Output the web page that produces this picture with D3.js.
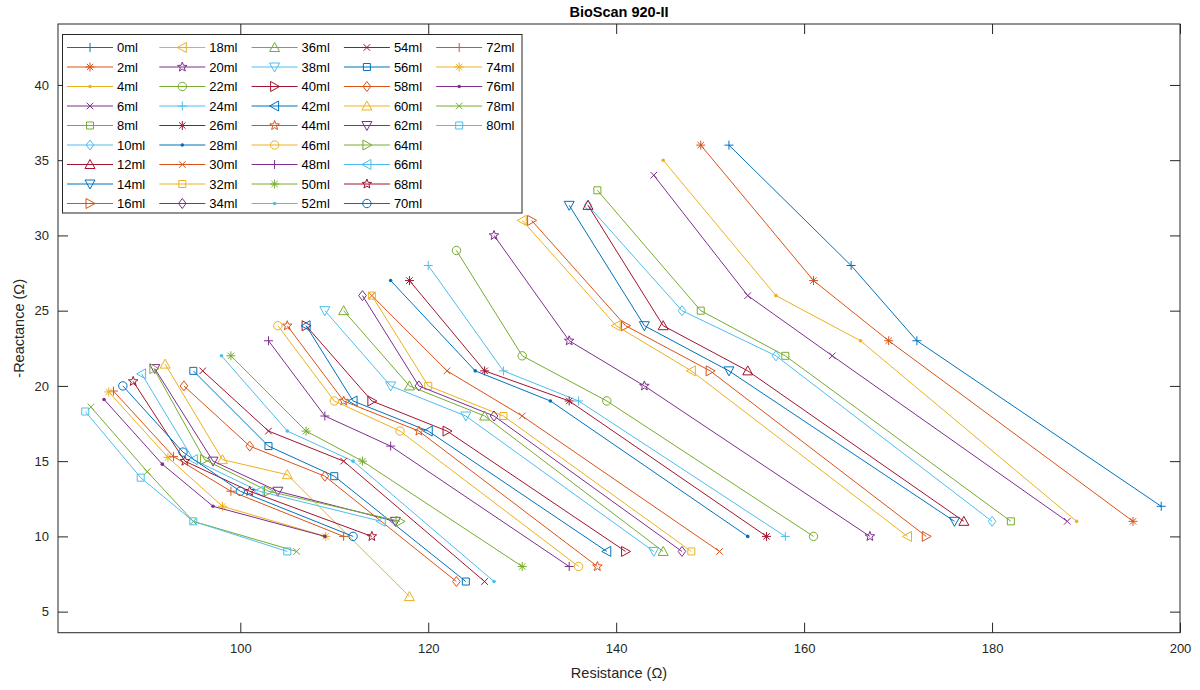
<!DOCTYPE html>
<html>
<head>
<meta charset="utf-8">
<script src="https://d3js.org/d3.v7.min.js"></script>
<style>
  body { margin: 0; background: #fff; }
  text { font-family: "Liberation Sans", Arial, Helvetica, sans-serif; }
  .tick line { stroke: #262626; }
  .tick text { fill: #262626; font-size: 13px; }
  .domain { display: none; }
</style>
</head>
<body>
<svg id="chart" width="1200" height="690"></svg>
<script>
// volumes added, one series each
var labels = ["0ml","2ml","4ml","6ml","8ml","10ml","12ml","14ml","16ml","18ml","20ml",
  "22ml","24ml","26ml","28ml","30ml","32ml","34ml","36ml","38ml","40ml",
  "42ml","44ml","46ml","48ml","50ml","52ml","54ml","56ml","58ml","60ml",
  "62ml","64ml","66ml","68ml","70ml","72ml","74ml","76ml","78ml","80ml"];

// resistance (ohm), 4 readings per series
var resistance = [
  [152,165,172,198], [149,161,169,195], [145,157,166,189], [144,154,163,188],
  [138,149,158,182], [137,147,157,180], [137,145,154,177], [135,143,152,176],
  [131,141,150,173], [130,140,148,171], [127,135,143,167], [123,130,139,161],
  [120,128,136,158], [118,126,135,156], [116,125,133,154], [114,122,130,151],
  [114,120,128,148], [113,119,127,147], [111,118,126,145], [109,116,124,144],
  [107,114,122,141], [107,112,120,139], [105,111,119,138], [104,110,117,136],
  [103,109,116,135], [99,107,113,130], [98,105,112,127], [96,103,111,126],
  [95,103,110,124], [94,101,109,123], [92,98.1,105,118], [90.9,97.1,104,116.5],
  [90.8,96.2,103,117], [89.5,95,102,115], [88.6,94.1,101,114], [87.5,93.9,100,112],
  [86.5,92.9,99,111], [86,92.3,98.1,109.1], [85.5,91.7,97.1,109], [84.1,90.1,95,106],
  [83.5,89.4,95,105]
];

// -reactance (ohm), same order
var reactance = [
  [36,28,23,12], [36,27,23,11], [35,26,23,11], [34,26,22,11],
  [33,25,22,11], [32,25,22,11], [32,24,21,11], [32,24,21,11],
  [31,24,21,10], [31,24,21,10], [30,23,20,10], [29,22,19,10],
  [28,21,19,10], [27,21,19,10], [27,21,19,10], [26,21,18,9],
  [26,20,18,9], [26,20,18,9], [25,20,18,9], [25,20,18,9],
  [24,19,17,9], [24,19,17,9], [24,19,17,8], [24,19,17,8],
  [23,18,16,8], [22,17,15,8], [22,17,15,7], [21,17,15,7],
  [21,16,14,7], [20,16,14,7], [21.45,15.1,14.1,6], [21.15,15,13,11],
  [21.15,15.1,13,11], [20.8,15.1,13,11], [20.3,15,13,10], [20,15.6,13,10],
  [19.66,15.3,13,10], [19.6,15.25,12,10], [19.1,14.8,12,10], [18.6,14.3,11,9],
  [18.3,13.9,11,9]
];

var xTicks = [100, 120, 140, 160, 180, 200];
var yTicks = [5, 10, 15, 20, 25, 30, 35, 40];
var colors = ["#0072BD","#D95319","#EDB120","#7E2F8E","#77AC30","#4DBEEE","#A2142F"];
var markers = ["+","*",".","x","s","d","^","v",">","<","p","o"];

var plotL = 58, plotT = 24, plotR = 1180, plotB = 632.7;

var svg = d3.select("#chart");

var x = d3.scaleLinear().domain([80.6, 200]).range([plotL, plotR]);
var y = d3.scaleLinear().domain([3.6, 44.05]).range([plotB, plotT]);

function circlePath(r) {
  return "M" + r + ",0A" + r + "," + r + " 0 1,1 " + (-r) + ",0A" + r + "," + r + " 0 1,1 " + r + ",0Z";
}

function markerPath(t) {
  switch (t) {
    case "+": return "M-4.5,0H4.5M0,-4.5V4.5";
    case "x": return "M-3.3,-3.3L3.3,3.3M-3.3,3.3L3.3,-3.3";
    case "*": return "M-4.5,0H4.5M0,-4.5V4.5M-3.2,-3.2L3.2,3.2M-3.2,3.2L3.2,-3.2";
    case ".": return circlePath(1.8);
    case "o": return circlePath(4.2);
    case "s": return "M-3.5,-3.5H3.5V3.5H-3.5Z";
    case "d": return "M0,-5L3.8,0L0,5L-3.8,0Z";
    case "^": return "M0,-5L5,4L-5,4Z";
    case "v": return "M0,5L5,-4L-5,-4Z";
    case ">": return "M5,0L-4,-5L-4,5Z";
    case "<": return "M-5,0L4,-5L4,5Z";
    case "p":
      var pts = [];
      for (var k = 0; k < 10; k++) {
        var rr = k % 2 === 0 ? 5 : 2.1;
        var ang = -Math.PI / 2 + k * Math.PI / 5;
        pts.push((rr * Math.cos(ang)).toFixed(2) + "," + (rr * Math.sin(ang)).toFixed(2));
      }
      return "M" + pts.join("L") + "Z";
  }
}

function drawMarker(g, t, color) {
  g.append("path")
    .attr("d", markerPath(t))
    .attr("fill", t === "." ? color : "none")
    .attr("stroke", t === "." ? "none" : color)
    .attr("stroke-width", 1);
}

// axes, ticks pointing inwards like matlab
svg.append("g")
  .attr("transform", "translate(0," + plotB + ")")
  .call(d3.axisBottom(x).tickValues(xTicks).tickSizeInner(-10).tickSizeOuter(0).tickPadding(11));
svg.append("g")
  .attr("transform", "translate(0," + plotT + ")")
  .call(d3.axisTop(x).tickValues(xTicks).tickSizeInner(-10).tickSizeOuter(0).tickFormat(""));
svg.append("g")
  .attr("transform", "translate(" + plotL + ",0)")
  .call(d3.axisLeft(y).tickValues(yTicks).tickSizeInner(-10).tickSizeOuter(0).tickPadding(9));
svg.append("g")
  .attr("transform", "translate(" + plotR + ",0)")
  .call(d3.axisRight(y).tickValues(yTicks).tickSizeInner(-10).tickSizeOuter(0).tickFormat(""));

svg.append("rect")
  .attr("x", plotL).attr("y", plotT)
  .attr("width", plotR - plotL).attr("height", plotB - plotT)
  .attr("fill", "none").attr("stroke", "#262626").attr("stroke-width", 1);

// data
var line = d3.line().x(function(d) { return x(d[0]); }).y(function(d) { return y(d[1]); });

labels.forEach(function(lab, i) {
  var color = colors[i % colors.length];
  var mk = markers[i % markers.length];
  var pts = resistance[i].map(function(r, j) { return [r, reactance[i][j]]; });
  var g = svg.append("g");
  g.append("path")
    .attr("d", line(pts))
    .attr("fill", "none")
    .attr("stroke", color)
    .attr("stroke-width", 1);
  pts.forEach(function(p) {
    var m = g.append("g").attr("transform", "translate(" + x(p[0]) + "," + y(p[1]) + ")");
    drawMarker(m, mk, color);
  });
});

// legend
var leg = svg.append("g");
leg.append("rect")
  .attr("x", 62.5).attr("y", 34.5)
  .attr("width", 459.5).attr("height", 178.5)
  .attr("fill", "#fff").attr("stroke", "#262626").attr("stroke-width", 1);

labels.forEach(function(lab, i) {
  var col = Math.floor(i / 9), row = i % 9;
  var x1 = 67 + col * 92.3, ly = 47.5 + row * 19.5;
  var color = colors[i % colors.length];
  leg.append("line")
    .attr("x1", x1).attr("x2", x1 + 46)
    .attr("y1", ly).attr("y2", ly)
    .attr("stroke", color).attr("stroke-width", 1);
  var m = leg.append("g").attr("transform", "translate(" + (x1 + 23) + "," + ly + ")");
  drawMarker(m, markers[i % markers.length], color);
  leg.append("text")
    .attr("x", x1 + 50).attr("y", ly).attr("dy", "0.35em")
    .style("font-size", "13px").attr("fill", "#000")
    .text(lab);
});

// titles
svg.append("text")
  .attr("x", (plotL + plotR) / 2).attr("y", 17)
  .attr("text-anchor", "middle")
  .style("font-size", "14.5px").style("font-weight", "bold")
  .attr("fill", "#000")
  .text("BioScan 920-II");

svg.append("text")
  .attr("x", (plotL + plotR) / 2).attr("y", 678)
  .attr("text-anchor", "middle")
  .style("font-size", "14.5px").attr("fill", "#262626")
  .text("Resistance (Ω)");

svg.append("text")
  .attr("transform", "translate(24," + ((plotT + plotB) / 2) + ") rotate(-90)")
  .attr("text-anchor", "middle")
  .style("font-size", "14.5px").attr("fill", "#262626")
  .text("-Reactance (Ω)");
</script>
</body>
</html>
